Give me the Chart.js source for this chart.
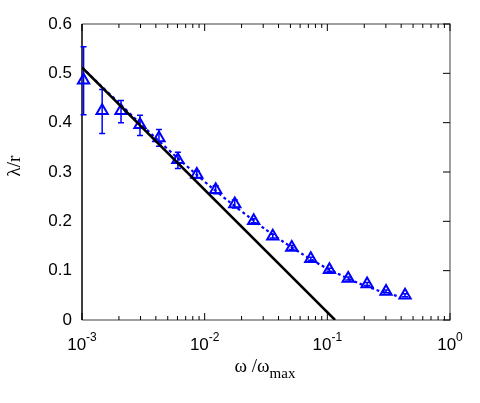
<!DOCTYPE html>
<html lang="en">
<head>
<meta charset="UTF-8">
<title>lambda / r</title>
<script src="https://cdn.jsdelivr.net/npm/chart.js"></script>
<style>
  html, body { margin: 0; padding: 0; background: #fff; }
  #wrap { width: 480px; height: 403px; }
</style>
</head>
<body>
<div id="wrap"><canvas id="myChart"></canvas></div>
<script>
// measured points (omega / omega_max, lambda / r) with error bars
var omega = [0.00103, 0.00146, 0.00208, 0.00297, 0.00424, 0.00605, 0.00863, 0.0123, 0.0176,
             0.0251, 0.0359, 0.0513, 0.0733, 0.104, 0.148, 0.211, 0.301, 0.43];
var lambdaR = [0.486, 0.424, 0.424, 0.396, 0.369, 0.325, 0.295, 0.264, 0.235,
               0.201, 0.170, 0.147, 0.124, 0.102, 0.084, 0.073, 0.058, 0.050];
var errLow = [0.416, 0.378, 0.400, 0.374, 0.352, 0.307, 0.288, 0.256, 0.227,
              0.197, 0.166, 0.143, 0.121, 0.099, 0.081, 0.070, 0.055, 0.047];
var errHigh = [0.554, 0.467, 0.445, 0.415, 0.386, 0.340, 0.302, 0.272, 0.243,
               0.205, 0.174, 0.151, 0.127, 0.105, 0.087, 0.076, 0.061, 0.053];

// dashed fit curve
var fitX = [0.001, 0.00141, 0.002, 0.00282, 0.00398, 0.00562, 0.00794, 0.0112, 0.0158, 0.0224,
            0.0316, 0.0447, 0.0631, 0.0891, 0.126, 0.178, 0.251, 0.355, 0.398];
var fitY = [0.512, 0.476, 0.440, 0.404, 0.369, 0.335, 0.302, 0.270, 0.240, 0.211,
            0.183, 0.157, 0.133, 0.111, 0.092, 0.075, 0.061, 0.050, 0.046];

// straight line (black)
var lineX = [0.001, 0.1156];
var lineY = [0.512, 0];

var yTicks = [0, 0.1, 0.2, 0.3, 0.4, 0.5, 0.6];
var xDecades = [-3, -2, -1, 0];

function pts(xs, ys) {
    return xs.map(function (x, i) { return { x: x, y: ys[i] }; });
}

var decor = {
    id: 'decor',
    beforeDatasetsDraw: function (chart) {
        var c = chart.ctx, xs = chart.scales.x, ys = chart.scales.y, a = chart.chartArea;
        c.save();
        // frame: left black, others gray
        c.lineWidth = 1.5;
        c.strokeStyle = '#808080';
        c.beginPath();
        c.moveTo(a.left, a.bottom); c.lineTo(a.right, a.bottom); c.lineTo(a.right, a.top); c.lineTo(a.left, a.top);
        c.stroke();
        c.strokeStyle = '#000';
        c.beginPath(); c.moveTo(a.left, a.top); c.lineTo(a.left, a.bottom); c.stroke();

        // x ticks (inward, top and bottom)
        c.lineWidth = 1;
        c.strokeStyle = '#000';
        xDecades.forEach(function (d, i) {
            for (var m = 1; m <= 9; m++) {
                if (i === xDecades.length - 1 && m > 1) break;
                var px = xs.getPixelForValue(m * Math.pow(10, d));
                var len = m === 1 ? 7 : 4;
                c.beginPath();
                c.moveTo(px, a.bottom); c.lineTo(px, a.bottom - len);
                c.moveTo(px, a.top); c.lineTo(px, a.top + len);
                c.stroke();
            }
        });
        // y ticks (inward, right side)
        yTicks.forEach(function (v) {
            var py = ys.getPixelForValue(v);
            c.beginPath();
            c.moveTo(a.right, py); c.lineTo(a.right - 7, py);
            c.stroke();
        });

        // labels
        c.fillStyle = '#000';
        c.font = '17px "Liberation Sans", Arial, sans-serif';
        c.textAlign = 'right';
        c.textBaseline = 'middle';
        yTicks.forEach(function (v) {
            c.fillText(v === 0 ? '0' : v.toFixed(1), a.left - 10, ys.getPixelForValue(v));
        });
        xDecades.forEach(function (d) {
            var px = xs.getPixelForValue(Math.pow(10, d));
            c.font = '17px "Liberation Sans", Arial, sans-serif';
            var w1 = c.measureText('10').width;
            c.font = '12px "Liberation Sans", Arial, sans-serif';
            var sup = String(d);
            var w2 = c.measureText(sup).width;
            var x0 = px - (w1 + w2) / 2;
            c.textAlign = 'left';
            c.textBaseline = 'alphabetic';
            c.font = '17px "Liberation Sans", Arial, sans-serif';
            c.fillText('10', x0, a.bottom + 30);
            c.font = '12px "Liberation Sans", Arial, sans-serif';
            c.fillText(sup, x0 + w1, a.bottom + 21);
        });

        // axis titles
        c.font = '19px "Liberation Serif", "Times New Roman", serif';
        c.textAlign = 'left';
        var t1 = '\u03c9 /\u03c9';
        var w = c.measureText(t1).width;
        c.font = '15px "Liberation Serif", "Times New Roman", serif';
        var ws = c.measureText('max').width;
        var tx = 265 - (w + ws) / 2;
        c.font = '19px "Liberation Serif", "Times New Roman", serif';
        c.fillText(t1, tx, 372);
        c.font = '15px "Liberation Serif", "Times New Roman", serif';
        c.fillText('max', tx + w, 378);

        c.save();
        c.translate(20, 166);
        c.rotate(-Math.PI / 2);
        c.textAlign = 'center';
        c.font = '19px "Liberation Serif", "Times New Roman", serif';
        c.fillText('\u03bb/r', 0, 0);
        c.restore();

        // error bars
        c.strokeStyle = '#0000ff';
        c.lineWidth = 1.5;
        omega.forEach(function (x, i) {
            var px = xs.getPixelForValue(x);
            var lo = ys.getPixelForValue(errLow[i]), hi = ys.getPixelForValue(errHigh[i]);
            c.beginPath();
            c.moveTo(px, lo); c.lineTo(px, hi);
            c.moveTo(px - 3, lo); c.lineTo(px + 3, lo);
            c.moveTo(px - 3, hi); c.lineTo(px + 3, hi);
            c.stroke();
        });
        c.restore();
    }
};

var ctx = document.getElementById('myChart').getContext('2d');
var myChart = new Chart(ctx, {
    type: 'scatter',
    data: {
        datasets: [{
            label: 'line',
            data: pts(lineX, lineY),
            showLine: true,
            borderColor: '#000',
            borderWidth: 2.5,
            pointRadius: 0,
            fill: false
        }, {
            label: 'fit',
            data: pts(fitX, fitY),
            showLine: true,
            borderColor: '#0000ff',
            borderWidth: 2.2,
            borderDash: [3, 3],
            tension: 0.3,
            pointRadius: 0,
            fill: false
        }, {
            label: 'data',
            data: pts(omega, lambdaR),
            showLine: false,
            clip: false,
            pointStyle: 'triangle',
            pointRadius: 6.5,
            pointBorderWidth: 2,
            pointBorderColor: '#0000ff',
            pointBackgroundColor: 'rgba(0,0,0,0)'
        }]
    },
    options: {
        responsive: true,
        maintainAspectRatio: false,
        animation: false,
        layout: { padding: { left: 74, top: 24, right: 30, bottom: 75 } },
        plugins: { legend: { display: false }, tooltip: { enabled: false } },
        scales: {
            x: {
                type: 'logarithmic',
                min: 0.001, max: 1,
                ticks: { display: false },
                grid: { display: false },
                border: { display: false }
            },
            y: {
                min: 0, max: 0.6,
                ticks: { display: false },
                grid: { display: false },
                border: { display: false }
            }
        }
    },
    plugins: [decor]
});
</script>
</body>
</html>
